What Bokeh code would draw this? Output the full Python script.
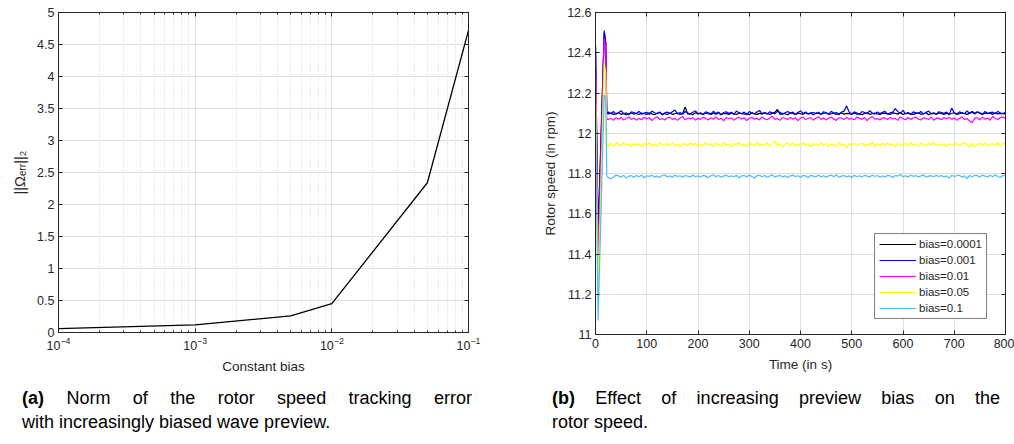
from bokeh.plotting import figure
from bokeh.models import (Range1d, FixedTicker, LinearAxis, LogAxis, Legend, LegendItem,
                          CustomJSTickFormatter, Div)
from bokeh.layouts import row, column
from bokeh.embed import file_html
from bokeh.resources import INLINE

# ---------------- data: panel (a) ----------------
bias = [1e-4, 1e-3, 5e-3, 1e-2, 5e-2, 1e-1]
err_norm = [0.06, 0.12, 0.26, 0.45, 2.34, 4.72]
a_xticks = [1e-4, 1e-3, 1e-2, 1e-1]
a_xminor = [2e-4, 3e-4, 4e-4, 5e-4, 6e-4, 7e-4, 8e-4, 9e-4,
            2e-3, 3e-3, 4e-3, 5e-3, 6e-3, 7e-3, 8e-3, 9e-3,
            2e-2, 3e-2, 4e-2, 5e-2, 6e-2, 7e-2, 8e-2, 9e-2]
a_yticks = [0, 0.5, 1, 1.5, 2, 2.5, 3, 3.5, 4, 4.5, 5]

# ---------------- data: panel (b) ----------------
b_xticks = [0, 100, 200, 300, 400, 500, 600, 700, 800]
b_yticks = [11, 11.2, 11.4, 11.6, 11.8, 12, 12.2, 12.4, 12.6]
time_head = [0, 5, 17, 20, 22]
time_ss = list(range(25, 801, 5))
time = time_head + time_ss

speed_b0001 = [12.44, 11.50, 12.50, 12.45, 12.10] + [
    12.096, 12.100, 12.093, 12.098, 12.102, 12.094, 12.099, 12.092, 12.097, 12.101, 12.095, 12.098,
    12.093, 12.100, 12.097, 12.094, 12.102, 12.096, 12.092, 12.099, 12.103, 12.095, 12.098, 12.093,
    12.101, 12.094, 12.097, 12.100, 12.093, 12.098, 12.130, 12.095, 12.099, 12.092, 12.102, 12.096,
    12.098, 12.093, 12.101, 12.097, 12.094, 12.100, 12.095, 12.102, 12.092, 12.098, 12.099, 12.094,
    12.100, 12.096, 12.093, 12.101, 12.098, 12.095, 12.099, 12.092, 12.102, 12.097, 12.094, 12.099,
    12.095, 12.101, 12.098, 12.093, 12.100, 12.104, 12.118, 12.094, 12.099, 12.097, 12.092, 12.101,
    12.098, 12.093, 12.100, 12.097, 12.094, 12.102, 12.096, 12.099, 12.092, 12.101, 12.098, 12.095,
    12.099, 12.102, 12.094, 12.097, 12.100, 12.093, 12.098, 12.101, 12.095, 12.099, 12.097, 12.094,
    12.101, 12.095, 12.098, 12.092, 12.099, 12.102, 12.094, 12.097, 12.100, 12.096, 12.093, 12.098,
    12.100, 12.097, 12.094, 12.101, 12.099, 12.095, 12.102, 12.093, 12.098, 12.100, 12.096, 12.094,
    12.099, 12.101, 12.094, 12.097, 12.102, 12.092, 12.098, 12.099, 12.095, 12.101, 12.098, 12.093,
    12.100, 12.095, 12.098, 12.102, 12.093, 12.097, 12.101, 12.098, 12.094, 12.100, 12.108, 12.099,
    12.105, 12.098, 12.093, 12.101, 12.097, 12.100, 12.094, 12.102, 12.096, 12.099, 12.098, 12.095]

speed_b001 = [12.43, 11.45, 12.51, 12.45, 12.10] + [
    12.105, 12.097, 12.108, 12.094, 12.102, 12.112, 12.096, 12.101, 12.092, 12.106, 12.103, 12.098,
    12.109, 12.095, 12.100, 12.104, 12.093, 12.110, 12.102, 12.097, 12.106, 12.091, 12.101, 12.105,
    12.098, 12.107, 12.115, 12.096, 12.103, 12.094, 12.108, 12.100, 12.095, 12.104, 12.111, 12.097,
    12.102, 12.093, 12.106, 12.101, 12.096, 12.109, 12.098, 12.105, 12.092, 12.103, 12.107, 12.099,
    12.104, 12.094, 12.110, 12.102, 12.097, 12.105, 12.091, 12.108, 12.101, 12.096, 12.106, 12.113,
    12.098, 12.103, 12.095, 12.107, 12.100, 12.097, 12.109, 12.104, 12.094, 12.102, 12.108, 12.099,
    12.105, 12.093, 12.103, 12.111, 12.098, 12.106, 12.096, 12.101, 12.103, 12.097, 12.104, 12.094,
    12.107, 12.102, 12.095, 12.109, 12.099, 12.103, 12.092, 12.105, 12.110, 12.135, 12.104, 12.096,
    12.106, 12.100, 12.093, 12.108, 12.103, 12.097, 12.112, 12.101, 12.095, 12.106, 12.098, 12.104,
    12.109, 12.094, 12.102, 12.105, 12.122, 12.107, 12.099, 12.114, 12.096, 12.103, 12.093, 12.106,
    12.101, 12.098, 12.108, 12.095, 12.104, 12.110, 12.097, 12.102, 12.094, 12.107, 12.103, 12.099,
    12.105, 12.092, 12.125, 12.102, 12.096, 12.106, 12.101, 12.097, 12.111, 12.098, 12.104, 12.095,
    12.107, 12.102, 12.094, 12.108, 12.099, 12.103, 12.105, 12.096, 12.109, 12.100, 12.097, 12.106]

speed_b01 = [12.41, 11.35, 12.47, 12.42, 12.07] + [
    12.068, 12.075, 12.064, 12.077, 12.070, 12.079, 12.066, 12.073, 12.081, 12.069, 12.076, 12.065,
    12.074, 12.067, 12.080, 12.071, 12.078, 12.063, 12.075, 12.082, 12.068, 12.073, 12.066, 12.077,
    12.079, 12.069, 12.074, 12.064, 12.076, 12.083, 12.067, 12.075, 12.071, 12.078, 12.065, 12.074,
    12.069, 12.080, 12.073, 12.066, 12.077, 12.070, 12.081, 12.068, 12.075, 12.062, 12.078, 12.072,
    12.076, 12.065, 12.074, 12.080, 12.069, 12.077, 12.063, 12.073, 12.079, 12.070, 12.075, 12.066,
    12.081, 12.071, 12.067, 12.076, 12.084, 12.069, 12.074, 12.064, 12.078, 12.073, 12.068, 12.079,
    12.070, 12.077, 12.063, 12.075, 12.080, 12.068, 12.073, 12.078, 12.065, 12.074, 12.082, 12.069,
    12.076, 12.066, 12.074, 12.081, 12.071, 12.064, 12.077, 12.075, 12.068, 12.079, 12.070, 12.073,
    12.067, 12.080, 12.074, 12.069, 12.078, 12.063, 12.076, 12.083, 12.070, 12.073, 12.066, 12.077,
    12.075, 12.068, 12.079, 12.071, 12.074, 12.064, 12.081, 12.073, 12.067, 12.078, 12.069, 12.076,
    12.080, 12.070, 12.066, 12.077, 12.073, 12.068, 12.082, 12.065, 12.075, 12.074, 12.067, 12.078,
    12.071, 12.079, 12.069, 12.076, 12.064, 12.074, 12.081, 12.068, 12.073, 12.061, 12.052, 12.075,
    12.077, 12.066, 12.080, 12.070, 12.075, 12.065, 12.083, 12.073, 12.068, 12.078, 12.081, 12.074]

speed_b05 = [12.28, 11.22, 12.35, 12.30, 11.95] + [
    11.935, 11.949, 11.933, 11.952, 11.946, 11.938, 11.955, 11.941, 11.947, 11.934, 11.950, 11.939,
    11.948, 11.932, 11.951, 11.940, 11.953, 11.937, 11.945, 11.935, 11.954, 11.944, 11.938, 11.949,
    11.940, 11.952, 11.936, 11.947, 11.931, 11.949, 11.945, 11.938, 11.953, 11.939, 11.950, 11.934,
    11.946, 11.937, 11.955, 11.941, 11.948, 11.933, 11.951, 11.944, 11.936, 11.957, 11.940, 11.947,
    11.935, 11.949, 11.941, 11.954, 11.938, 11.946, 11.934, 11.950, 11.945, 11.939, 11.953, 11.937,
    11.948, 11.940, 11.952, 11.935, 11.947, 11.961, 11.939, 11.949, 11.932, 11.945, 11.951, 11.938,
    11.953, 11.936, 11.946, 11.939, 11.955, 11.942, 11.949, 11.934, 11.948, 11.945, 11.937, 11.952,
    11.940, 11.950, 11.933, 11.947, 11.944, 11.936, 11.954, 11.938, 11.946, 11.928, 11.949, 11.941,
    11.951, 11.939, 11.945, 11.952, 11.937, 11.947, 11.940, 11.955, 11.935, 11.948, 11.942, 11.950,
    11.938, 11.953, 11.941, 11.946, 11.934, 11.949, 11.944, 11.939, 11.951, 11.936, 11.954, 11.940,
    11.947, 11.935, 11.950, 11.945, 11.938, 11.952, 11.941, 11.956, 11.937, 11.946, 11.939, 11.949,
    11.934, 11.948, 11.944, 11.940, 11.951, 11.937, 11.947, 11.953, 11.941, 11.935, 11.950, 11.932,
    11.946, 11.949, 11.939, 11.952, 11.936, 11.945, 11.948, 11.940, 11.954, 11.934, 11.947, 11.951]

speed_b1 = [12.14, 11.07, 12.19, 12.17, 11.79] + [
    11.778, 11.774, 11.783, 11.792, 11.788, 11.782, 11.791, 11.777, 11.787, 11.789, 11.781, 11.790,
    11.784, 11.792, 11.779, 11.789, 11.786, 11.791, 11.782, 11.788, 11.780, 11.790, 11.794, 11.783,
    11.788, 11.781, 11.792, 11.785, 11.789, 11.780, 11.790, 11.787, 11.783, 11.793, 11.784, 11.788,
    11.782, 11.791, 11.787, 11.780, 11.789, 11.794, 11.784, 11.790, 11.781, 11.787, 11.792, 11.783,
    11.789, 11.784, 11.791, 11.779, 11.788, 11.790, 11.783, 11.792, 11.785, 11.778, 11.789, 11.791,
    11.784, 11.790, 11.781, 11.788, 11.793, 11.783, 11.787, 11.791, 11.782, 11.789, 11.780, 11.788,
    11.792, 11.785, 11.789, 11.781, 11.790, 11.788, 11.779, 11.791, 11.787, 11.783, 11.792, 11.784,
    11.789, 11.782, 11.788, 11.792, 11.784, 11.794, 11.781, 11.787, 11.790, 11.783, 11.788, 11.780,
    11.791, 11.784, 11.789, 11.782, 11.792, 11.787, 11.783, 11.793, 11.785, 11.790, 11.781, 11.788,
    11.783, 11.791, 11.788, 11.780, 11.790, 11.787, 11.795, 11.784, 11.789, 11.782, 11.792, 11.786,
    11.790, 11.783, 11.788, 11.793, 11.781, 11.787, 11.789, 11.784, 11.791, 11.785, 11.790, 11.783,
    11.788, 11.777, 11.791, 11.785, 11.789, 11.792, 11.782, 11.788, 11.775, 11.790, 11.784, 11.791,
    11.789, 11.782, 11.792, 11.787, 11.783, 11.791, 11.784, 11.794, 11.785, 11.780, 11.790, 11.788]

series_labels = ["bias=0.0001", "bias=0.001", "bias=0.01", "bias=0.05", "bias=0.1"]
series_values = [speed_b0001, speed_b001, speed_b01, speed_b05, speed_b1]
series_colors = ["#000000", "#0000ff", "#ff00ff", "#ffff00", "#4dbeee"]

# ---------------- styling ----------------
AX = "#262626"
GRID = "#e0e0e0"
MINOR = "#d2d2d2"
FONT = "Liberation Sans"
TICK_FS = "12.5px"
LABEL_FS = "13.5px"

num_fmt = CustomJSTickFormatter(code="return String(Number(tick.toFixed(4)));")


def style_axis(ax, show_labels=True):
    ax.axis_line_color = AX
    ax.major_tick_line_color = AX
    ax.major_tick_in = 4
    ax.major_tick_out = 0
    ax.minor_tick_line_color = AX
    ax.minor_tick_in = 2
    ax.minor_tick_out = 0
    ax.major_label_text_font = FONT
    ax.major_label_text_color = AX
    ax.axis_label_text_font = FONT
    ax.axis_label_text_font_size = LABEL_FS
    ax.axis_label_text_font_style = "normal"
    ax.axis_label_text_color = AX
    if show_labels:
        ax.major_label_text_font_size = TICK_FS
        ax.major_label_standoff = 4
        ax.axis_label_standoff = 6
    else:
        ax.major_label_text_font_size = "0px"
        ax.major_label_text_alpha = 0
        ax.major_label_standoff = 0


# ---------------- panel (a) ----------------
p1 = figure(width=530, height=376, x_axis_type="log",
            x_range=Range1d(1e-4, 1e-1), y_range=Range1d(0, 5),
            output_backend="svg", toolbar_location=None,
            min_border_left=58, min_border_right=62, min_border_top=12, min_border_bottom=42)
p1.outline_line_color = AX
xt1 = FixedTicker(ticks=a_xticks, minor_ticks=a_xminor)
yt1 = FixedTicker(ticks=a_yticks, minor_ticks=[])
p1.xaxis.ticker = xt1
p1.yaxis.ticker = yt1
p1.yaxis.formatter = num_fmt
p1.xaxis.axis_label = "Constant bias"
p1.yaxis.axis_label = "||Ωₑᵣᵣ||₂"
style_axis(p1.xaxis[0])
style_axis(p1.yaxis[0])
p1.yaxis.axis_label_text_font_size = "14.5px"
p1.yaxis.minor_tick_line_color = None
top1 = LogAxis(ticker=FixedTicker(ticks=a_xticks, minor_ticks=a_xminor))
right1 = LinearAxis(ticker=FixedTicker(ticks=a_yticks, minor_ticks=[]))
style_axis(top1, False)
style_axis(right1, False)
right1.minor_tick_line_color = None
p1.add_layout(top1, "above")
p1.add_layout(right1, "right")
p1.xgrid.ticker = xt1
p1.ygrid.ticker = yt1
p1.xgrid.grid_line_color = GRID
p1.ygrid.grid_line_color = GRID
p1.xgrid.minor_grid_line_color = MINOR
p1.xgrid.minor_grid_line_dash = "1 2"
p1.line(bias, err_norm, line_color="black", line_width=1.3)

# ---------------- panel (b) ----------------
p2 = figure(width=484, height=376,
            x_range=Range1d(0, 800), y_range=Range1d(11, 12.6),
            output_backend="svg", toolbar_location=None,
            min_border_left=65, min_border_right=9, min_border_top=12, min_border_bottom=42)
p2.outline_line_color = AX
xt2 = FixedTicker(ticks=b_xticks, minor_ticks=[])
yt2 = FixedTicker(ticks=b_yticks, minor_ticks=[])
p2.xaxis.ticker = xt2
p2.yaxis.ticker = yt2
p2.xaxis.formatter = num_fmt
p2.yaxis.formatter = num_fmt
p2.xaxis.axis_label = "Time (in s)"
p2.yaxis.axis_label = "Rotor speed (in rpm)"
style_axis(p2.xaxis[0])
style_axis(p2.yaxis[0])
p2.xaxis.minor_tick_line_color = None
p2.yaxis.minor_tick_line_color = None
top2 = LinearAxis(ticker=FixedTicker(ticks=b_xticks, minor_ticks=[]))
right2 = LinearAxis(ticker=FixedTicker(ticks=b_yticks, minor_ticks=[]))
for a in (top2, right2):
    style_axis(a, False)
    a.minor_tick_line_color = None
p2.add_layout(top2, "above")
p2.add_layout(right2, "right")
p2.xgrid.ticker = xt2
p2.ygrid.ticker = yt2
p2.xgrid.grid_line_color = GRID
p2.ygrid.grid_line_color = GRID

items = []
for lab, vals, col in zip(series_labels, series_values, series_colors):
    r = p2.line(time, vals, line_color=col, line_width=1.2)
    items.append(LegendItem(label=lab, renderers=[r]))

leg = Legend(items=items, location=(279, 15),
             label_text_font=FONT, label_text_font_size="11.5px", label_text_color=AX,
             label_height=12, glyph_height=12, glyph_width=37, label_standoff=3,
             spacing=4, padding=4, margin=0,
             border_line_color="black", border_line_width=1,
             background_fill_color="white", background_fill_alpha=1)
p2.add_layout(leg)

# ---------------- captions ----------------
CAP = ("font-family:'Liberation Sans',sans-serif;font-size:18px;line-height:24px;color:#000;")
cap_a = Div(width=450, height=48, margin=(10, 0, 0, 22), text=(
    f"<div style=\"{CAP}width:450px;\">"
    "<div style='width:450px;text-align:justify;text-align-last:justify;'><b>(a)</b> Norm of the rotor speed tracking error</div>"
    "<div>with increasingly biased wave preview.</div></div>"))
cap_b = Div(width=448, height=48, margin=(10, 0, 0, 22), text=(
    f"<div style=\"{CAP}width:448px;\">"
    "<div style='width:448px;text-align:justify;text-align-last:justify;'><b>(b)</b> Effect of increasing preview bias on the</div>"
    "<div>rotor speed.</div></div>"))

layout = row(column(p1, cap_a), column(p2, cap_b))
open("out.html", "w").write(file_html(layout, INLINE))
